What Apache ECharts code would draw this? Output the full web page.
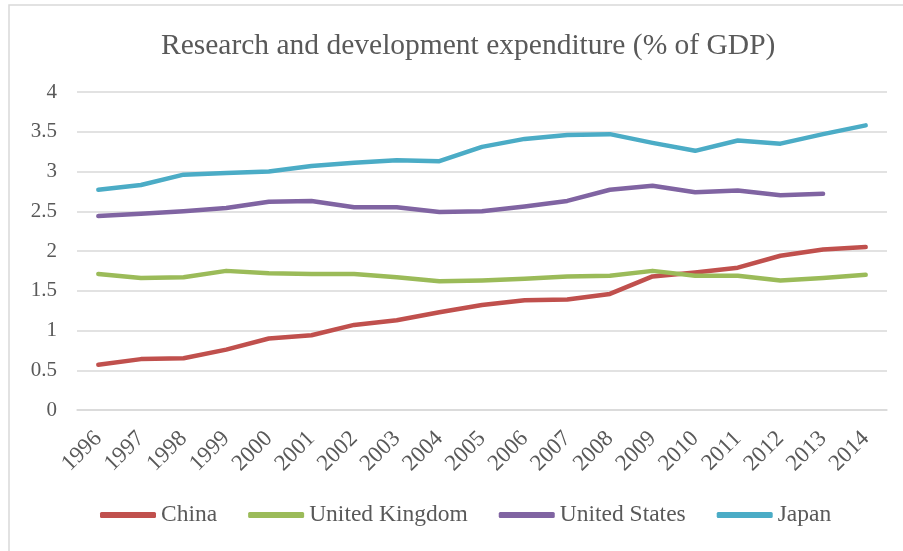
<!DOCTYPE html>
<html>
<head>
<meta charset="utf-8">
<script src="https://cdn.jsdelivr.net/npm/echarts@6/dist/echarts.min.js"></script>
<style>
    html, body { margin: 0; padding: 0; background: #fff; }
    #chart { width: 903px; height: 551px; }
</style>
</head>
<body>
<div id="chart"></div>
<script>
    // values
    let years = ['1996','1997','1998','1999','2000','2001','2002','2003','2004','2005',
                 '2006','2007','2008','2009','2010','2011','2012','2013','2014']
    let china = [0.57,0.64,0.65,0.76,0.90,0.94,1.07,1.13,1.23,1.32,1.38,1.39,1.46,1.68,1.73,1.79,1.94,2.02,2.05]
    let uk    = [1.71,1.66,1.67,1.75,1.72,1.71,1.71,1.67,1.62,1.63,1.65,1.68,1.69,1.75,1.69,1.69,1.63,1.66,1.70]
    let us    = [2.44,2.47,2.50,2.54,2.62,2.63,2.55,2.55,2.49,2.50,2.56,2.63,2.77,2.82,2.74,2.76,2.70,2.72,null]
    let japan = [2.77,2.83,2.96,2.98,3.00,3.07,3.11,3.14,3.13,3.31,3.41,3.46,3.47,3.36,3.26,3.39,3.35,3.47,3.58]
    let names = ['China','United Kingdom','United States','Japan']
    let colors = ['#C0504D','#9BBB59','#8064A2','#4BACC6']

    let font = '"Liberation Serif", "Times New Roman", serif'
    let textColor = '#595959'

    let myChart = echarts.init(document.getElementById('chart'))
    let seriesData = [china, uk, us, japan]
    let series = []
    for (let i = 0; i < names.length; i++) {
        series.push({
            name: names[i],
            type: 'line',
            data: seriesData[i],
            showSymbol: false,
            symbol: 'none',
            lineStyle: { width: 4.5, color: colors[i], cap: 'round', join: 'round' },
            itemStyle: { color: colors[i] }
        })
    }

    const option = {
        animation: false,
        color: colors,
        graphic: [{
            type: 'rect',
            shape: { x: 9, y: 5, width: 1200, height: 1200 },
            style: { fill: 'none', stroke: '#d9d9d9', lineWidth: 1.5 }
        }],
        title: {
            text: 'Research and development expenditure (% of GDP)',
            left: 156,
            top: 26,
            textStyle: { fontFamily: font, fontSize: 29.5, fontWeight: 'normal', color: textColor }
        },
        legend: {
            left: 100,
            top: 503,
            padding: 0,
            itemGap: 31,
            itemWidth: 56,
            itemHeight: 6,
            icon: 'roundRect',
            textStyle: { fontFamily: font, fontSize: 23.5, color: textColor }
        },
        grid: { left: 77, right: 16, top: 92, bottom: 141 },
        xAxis: {
            type: 'category',
            data: years,
            boundaryGap: true,
            axisLine: { lineStyle: { color: '#d9d9d9', width: 1.5 } },
            axisTick: { show: false },
            axisLabel: {
                rotate: 45,
                interval: 0,
                margin: 25,
                fontFamily: font,
                fontSize: 23,
                color: textColor
            }
        },
        yAxis: {
            type: 'value',
            min: 0,
            max: 4,
            interval: 0.5,
            axisLine: { show: false },
            axisTick: { show: false },
            splitLine: { lineStyle: { color: '#d9d9d9', width: 1.5 } },
            axisLabel: { margin: 20, fontFamily: font, fontSize: 21, color: textColor }
        },
        series: series
    }
    myChart.setOption(option)
</script>
</body>
</html>
